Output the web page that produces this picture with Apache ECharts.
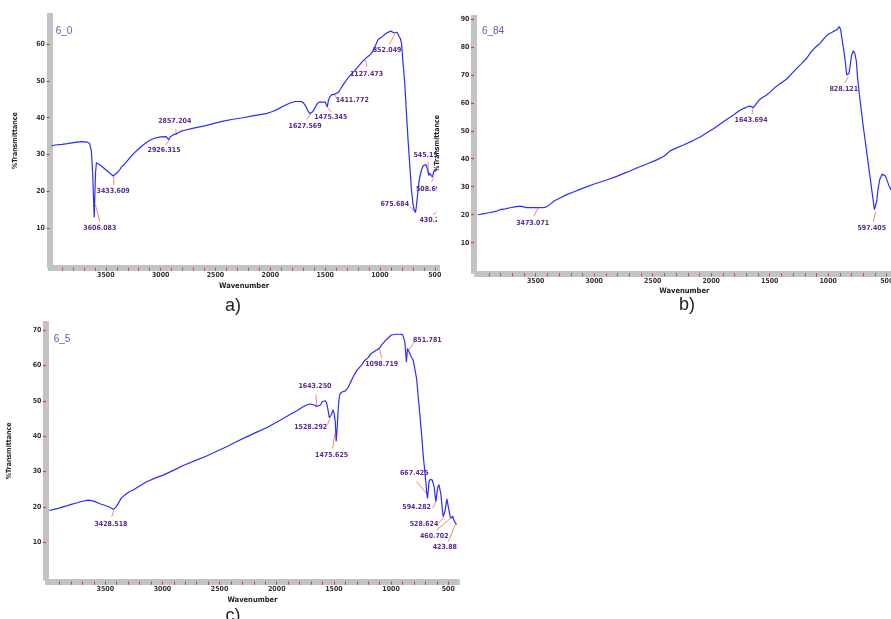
<!DOCTYPE html>
<html>
<head>
<meta charset="utf-8">
<script src="https://cdn.jsdelivr.net/npm/echarts@6/dist/echarts.min.js"></script>
<style>html,body{margin:0;padding:0;background:#fff;}#c{width:891px;height:619px;}</style>
</head>
<body>
<div id="c"></div>
<script>
// ---------- data ----------
const wnA = [3995,3960,3900,3850,3780,3720,3670,3648,3632,3620,3612,3606,3600,3594,3586,3570,3540,3500,3465,3433,3400,3370,3360,3340,3310,3280,3250,3200,3160,3100,3050,3000,2950,2935,2926,2915,2900,2875,2857,2845,2820,2780,2700,2600,2520,2440,2340,2250,2160,2080,2030,1980,1940,1880,1820,1770,1720,1700,1680,1660,1640,1628,1615,1595,1570,1550,1520,1500,1490,1480,1472,1460,1442,1425,1412,1395,1380,1360,1336,1300,1260,1230,1184,1160,1138,1127,1115,1078,1050,1017,980,941,900,886,872,860,845,830,815,804,790,774,760,744,728,713,700,689,676,668,659,650,644,632,622,605,592,580,570,562,555,548,540,530,521,515,509,500,490,482];
const tA  = [32.4,32.6,32.8,33.0,33.3,33.5,33.4,33.0,31.0,25.0,18.0,13.0,19.0,25.0,27.8,27.7,26.9,25.9,25.0,24.2,25.0,26.0,26.6,27.1,28.1,29.2,30.2,31.6,32.6,33.9,34.5,34.8,34.9,34.8,34.0,34.8,35.2,35.5,35.1,35.8,36.3,36.6,37.2,37.8,38.4,39.0,39.6,40.0,40.5,40.9,41.2,41.7,42.2,43.2,44.0,44.4,44.4,44.1,43.3,42.0,41.1,41.0,41.6,42.6,43.9,44.3,44.2,44.3,43.6,43.0,44.4,45.5,46.2,46.5,46.4,46.6,46.9,47.8,48.9,50.5,51.9,52.8,54.4,55.2,55.9,55.6,56.5,57.4,59.0,61.2,62.0,63.0,63.5,63.8,63.0,63.3,63.2,62.8,61.5,60.3,55.0,49.4,42.0,34.0,27.0,20.4,16.8,15.0,14.3,16.0,18.6,21.0,22.7,24.6,25.8,27.0,27.5,27.3,26.8,25.5,24.3,25.0,25.4,24.5,23.9,24.8,25.5,25.4,25.9,26.0];

const wnB = [3995,3950,3900,3862,3830,3805,3760,3719,3680,3634,3600,3577,3530,3491,3450,3420,3400,3377,3340,3292,3240,3178,3100,3007,2900,2808,2720,2637,2550,2466,2400,2352,2300,2238,2160,2095,2040,1981,1920,1868,1810,1754,1720,1697,1670,1654,1640,1625,1611,1590,1568,1530,1497,1460,1426,1390,1355,1310,1269,1230,1184,1150,1127,1100,1070,1035,999,975,956,930,904,893,885,870,856,842,833,822,812,800,785,772,760,748,728,705,685,665,643,625,614,605,600,593,585,575,560,540,523,510,495,480,463];
const tB  = [20.0,20.3,20.7,21.0,21.3,21.8,22.1,22.5,22.8,23.1,22.8,22.5,22.5,22.5,22.5,22.6,23.0,23.7,25.0,26.0,27.1,28.1,29.4,30.9,32.3,33.7,35.2,36.7,38.1,39.6,41.0,42.8,43.8,44.9,46.4,47.8,49.2,50.7,52.5,54.0,55.6,57.3,58.0,58.5,58.8,58.8,58.3,58.9,59.9,61.0,61.7,62.7,63.8,65.3,66.4,67.4,68.5,70.5,72.3,73.9,75.9,78.0,79.1,80.2,81.2,83.0,84.5,85.0,85.5,86.0,87.2,86.0,83.6,79.5,75.3,69.9,69.3,70.5,73.5,77.0,78.6,77.5,75.0,68.5,61.0,53.0,46.7,40.5,33.6,28.0,24.6,21.8,21.1,22.0,25.0,29.0,32.5,34.5,35.0,33.8,32.0,30.3,28.8];

const wnC = [3990,3950,3911,3870,3838,3790,3751,3700,3649,3620,3590,3547,3500,3460,3428,3405,3386,3360,3328,3290,3255,3200,3138,3060,2993,2900,2818,2714,2614,2520,2439,2350,2264,2170,2089,2010,1943,1880,1827,1780,1739,1710,1695,1670,1652,1635,1617,1600,1588,1575,1564,1552,1540,1532,1520,1508,1498,1488,1480,1470,1462,1455,1448,1435,1418,1400,1375,1355,1331,1300,1258,1230,1200,1180,1156,1130,1112,1095,1083,1050,1025,996,960,923,900,889,880,873,866,861,856,846,836,822,807,795,777,762,748,733,719,708,696,688,681,675,668,658,648,640,630,622,614,608,600,592,582,573,566,558,550,544,536,529,520,512,506,499,491,484,476,468,460,451,442,434,427];
const tC  = [19.0,19.3,19.6,20.0,20.3,20.8,21.1,21.6,21.9,21.8,21.5,20.9,20.4,19.9,19.3,20.0,21.0,22.5,23.4,24.3,24.8,25.9,27.1,28.2,29.0,30.4,31.7,33.1,34.4,35.8,37.0,38.5,39.8,41.2,42.4,43.8,45.0,46.2,47.1,48.1,48.8,49.1,49.1,48.8,48.4,48.5,48.8,49.8,50.2,50.0,49.4,47.5,45.2,45.0,46.2,47.4,46.5,44.0,38.6,43.0,47.9,50.5,51.8,52.4,52.4,52.8,53.8,55.2,56.8,58.6,60.1,61.4,62.2,63.2,63.7,64.3,64.6,65.2,65.8,67.0,67.8,68.6,68.8,68.8,68.7,68.4,66.8,64.0,61.0,63.0,64.8,64.0,63.4,62.3,61.5,59.5,56.3,51.0,46.0,40.5,34.7,31.0,27.1,24.0,22.4,24.5,27.1,27.8,27.9,27.6,26.5,25.5,23.0,21.5,23.5,25.5,26.3,26.2,24.0,21.5,18.8,17.3,17.8,18.7,20.5,22.3,22.0,20.0,18.7,17.4,16.8,17.3,17.4,16.3,15.7,15.4,15.1];

// peak annotations: [text, wavenumber, %T] (leader start on the curve)
const peaksA = [["3606.083",3594,16.3],["3433.609",3427,24.0],["2926.315",2923,33.8],["2857.204",2856,35.3],["1627.569",1634,40.9],["1475.345",1488,43.2],["1411.772",1419,46.4],["1127.473",1132,55.7],["852.049",865,62.6],["675.684",683,14.7],["545.151",558,24.5],["508.693",507,23.7],["430.212",485,14.4]];
const peaksB = [["3473.071",3478,22.6],["1643.694",1640,58.8],["828.121",828,69.3],["597.405",594,21.1]];
const peaksC = [["3428.518",3424,18.9],["1643.250",1651,48.6],["1528.292",1534,44.9],["1475.625",1491,40.8],["1098.719",1103,64.8],["851.781",843,64.4],["667.425",680,23.4],["594.282",610,21.3],["528.624",537,17.2],["460.702",479,16.8],["423.881",432,15.4]];

// tick values / labels
const xTicks = []; for (let v = 500; v <= 3900; v += 100) xTicks.push(v);
const xLabels = [500,1000,1500,2000,2500,3000,3500];
const yLabelsA = [10,20,30,40,50,60];
const yLabelsB = [10,20,30,40,50,60,70,80,90];
const yLabelsC = [10,20,30,40,50,60,70];
const sampleNames = ["6_0","6_84","6_5"];
const captions = ["a)","b)","c)"];

// ---------- layout / style (not data) ----------
// leader-line end offset (dx,dy) and label centre offset (lx,ly), px, relative to leader start
const layA = [[4.3,16.7,4.3,23.3],[0,8.3,-0.7,14],[-3.6,4.3,-5,10],[-0.7,-6,-1.7,-14],[-4,5,-5.4,11.7],[5,6.3,4.3,11.7],[4,5.7,18.2,6.4],[1.6,6.7,1,14],[-5.7,10,-7.7,15.7],[-5.7,-5,-20,-7],[-0.4,-13.3,-0.7,-20],[-2.6,4,-3.8,11],[-3.4,2.7,-2.7,8.4]];
const layB = [[-4.3,8.7,-5.6,16],[-1.3,8,-2.3,14],[-3.3,6,-4.6,12.3],[-2.4,10,-4,16.6]];
const layC = [[-2.3,5.7,-3,13.3],[-0.7,-11.4,-1.7,-19.7],[-2.7,6,-19.3,8.7],[-2.3,15,-3.3,21.7],[2.4,10,2.4,16],[6,-9,18.3,-9.3],[-11,-13.3,-13.4,-21.7],[-3,6,-19,5],[-5.7,6.6,-20,7.6],[-14,11.7,-16.4,17.7],[-7.7,18.4,-9,24]];

const FONT = "'DejaVu Sans Condensed','Liberation Sans Narrow','DejaVu Sans',sans-serif";
const BAND = '#c3c3c3', TICK = '#e53b2c', LINE = '#2a2cff', PURPLE = '#5a2a8e', LEADER = '#f2886a';

function zip(x, y) { return x.map((v, i) => [v, y[i]]); }
const plain = v => String(v);

function xAxisDef(idx, min, max, offset) {
  return {
    type: 'value', gridIndex: idx, inverse: true, min: min, max: max, offset: offset,
    name: 'Wavenumber', nameLocation: 'middle', nameGap: 14,
    nameTextStyle: { fontFamily: FONT, fontSize: 7.5, fontWeight: 'bold', color: '#222' },
    splitLine: { show: false },
    axisLine: { onZero: false, lineStyle: { color: BAND, width: 6, cap: 'square' } },
    axisTick: { customValues: xTicks, length: 3, lineStyle: { color: TICK, width: 1 } },
    axisLabel: { customValues: xLabels, formatter: plain, margin: 4, fontFamily: FONT, fontSize: 7, fontWeight: 'bold', color: '#333' }
  };
}
function yAxisDef(idx, max, offset, labels, gap) {
  return {
    type: 'value', gridIndex: idx, min: 0, max: max, offset: offset,
    name: '%Transmittance', nameLocation: 'middle', nameGap: gap,
    nameTextStyle: { fontFamily: FONT, fontSize: 7, fontWeight: 'bold', color: '#222' },
    splitLine: { show: false },
    axisLine: { onZero: false, lineStyle: { color: BAND, width: 6, cap: 'square' } },
    axisTick: { customValues: labels, length: 3, lineStyle: { color: TICK, width: 1.2 } },
    axisLabel: { customValues: labels, formatter: plain, margin: 4.5, fontFamily: FONT, fontSize: 7, fontWeight: 'bold', color: '#333' }
  };
}
function lineSeries(idx, x, y) {
  return { type: 'line', xAxisIndex: idx, yAxisIndex: idx, data: zip(x, y), showSymbol: false, symbol: 'none',
    lineStyle: { color: LINE, width: 1.2 }, animation: false, silent: true };
}
function peakSeries(idx, peaks, lay) {
  return {
    type: 'custom', xAxisIndex: idx, yAxisIndex: idx, clip: true, animation: false, silent: true,
    data: peaks.map(p => [p[1], p[2]]), encode: { x: 0, y: 1 },
    renderItem: function (params, api) {
      const p = api.coord([api.value(0), api.value(1)]);
      const l = lay[params.dataIndex];
      return { type: 'group', children: [
        { type: 'line', shape: { x1: p[0], y1: p[1], x2: p[0] + l[0], y2: p[1] + l[1] }, style: { stroke: LEADER, lineWidth: 1 } },
        { type: 'text', x: p[0] + l[2], y: p[1] + l[3], style: { text: peaks[params.dataIndex][0], align: 'center', verticalAlign: 'middle',
          fill: PURPLE, fontFamily: FONT, fontSize: 7, fontWeight: 'bold' } }
      ] };
    }
  };
}
function txt(x, y, s, size, color) {
  return { type: 'text', x: x, y: y, z: 100,
    style: { text: s, fontFamily: "'Liberation Sans',Arial,sans-serif", fontSize: size, fill: color, align: 'center', verticalAlign: 'middle' } };
}

const chart = echarts.init(document.getElementById('c'), null, { renderer: 'canvas' });
chart.setOption({
  backgroundColor: '#fff',
  animation: false,
  grid: [
    { left: 51, top: 16, width: 386, height: 249.2, containLabel: false, outerBoundsMode: 'none' },
    { left: 477.2, top: 16, width: 414.2, height: 254.7, containLabel: false, outerBoundsMode: 'none' },
    { left: 48.1, top: 324, width: 408.7, height: 253.7, containLabel: false, outerBoundsMode: 'none' }
  ],
  xAxis: [ xAxisDef(0, 480, 4000, 2.5), xAxisDef(1, 460, 4000, 2.6), xAxisDef(2, 425, 4000, 4) ],
  yAxis: [ yAxisDef(0, 67.6, 1.5, yLabelsA, 31), yAxisDef(1, 91, 3.2, yLabelsB, 33), yAxisDef(2, 71.7, 2.1, yLabelsC, 33) ],
  series: [
    lineSeries(0, wnA, tA), lineSeries(1, wnB, tB), lineSeries(2, wnC, tC),
    peakSeries(0, peaksA, layA), peakSeries(1, peaksB, layB), peakSeries(2, peaksC, layC)
  ],
  graphic: [
    { type: 'rect', z: 90, shape: { x: 452, y: 0, width: 439, height: 15 }, style: { fill: '#fff' } },
    txt(64, 31, sampleNames[0], 10, '#7b4cb3'),
    txt(493, 31, sampleNames[1], 10, '#7b4cb3'),
    txt(62, 339, sampleNames[2], 10, '#7b4cb3'),
    txt(233, 306, captions[0], 18, '#222'),
    txt(687, 305, captions[1], 18, '#222'),
    txt(233, 616, captions[2], 18, '#222')
  ]
});
</script>
</body>
</html>
